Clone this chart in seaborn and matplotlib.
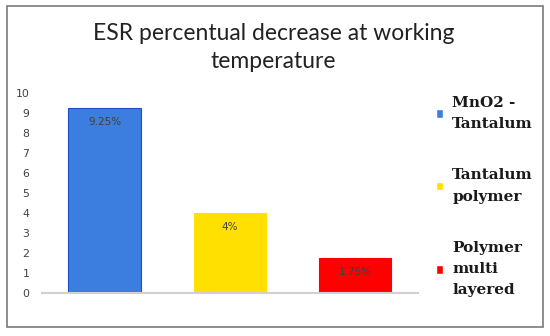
import matplotlib
matplotlib.use("Agg")
import matplotlib.pyplot as plt
from matplotlib.patches import Rectangle
import pandas as pd
import seaborn as sns

# Data
categories = ["MnO2 -\nTantalum", "Tantalum\npolymer", "Polymer\nmulti\nlayered"]
decrease_pct = [9.25, 4, 1.75]
bar_labels = ["9.25%", "4%", "1.75%"]
bar_colors = ["#3c7de0", "#ffe000", "#ff0000"]
edge_colors = ["#1f4fc8", "#ffe000", "#ff0000"]
y_ticks = list(range(0, 11))

df = pd.DataFrame({"category": categories, "value": decrease_pct})

sns.set_style("white")
plt.rcParams["font.family"] = ["Lato", "DejaVu Sans"]

fig = plt.figure(figsize=(5.5, 3.36), dpi=100)
ax = fig.add_axes([0.076, 0.128, 0.684, 0.595])

sns.barplot(data=df, x="category", y="value", hue="category",
            palette=bar_colors, width=0.575, legend=True, ax=ax,
            saturation=1)

for patch, ec in zip(ax.patches, edge_colors):
    patch.set_edgecolor(ec)
    patch.set_linewidth(0.8)

for patch, lab in zip(ax.patches, bar_labels):
    ax.text(patch.get_x() + patch.get_width() / 2, patch.get_height() - 0.45,
            lab, ha="center", va="top", fontsize=7.5, color="#404040",
            family=["DejaVu Sans"])

ax.set_ylim(0, 10)
ax.set_yticks(y_ticks)
ax.tick_params(axis="y", length=0, pad=9, colors="#404040")
for lab in ax.get_yticklabels():
    lab.set_family(["DejaVu Sans"])
    lab.set_fontsize(7.8)
ax.set_xticks([])
ax.set_xlabel("")
ax.set_ylabel("")
for side in ["top", "right", "left"]:
    ax.spines[side].set_visible(False)
ax.spines["bottom"].set_color("#d0d0d0")
ax.spines["bottom"].set_linewidth(1.5)

leg = ax.legend(loc="upper left", bbox_to_anchor=(1.01, 1.055), frameon=False,
                handlelength=0.5, handleheight=0.5, handletextpad=0.6,
                labelspacing=2.45,
                prop={"family": ["DejaVu Serif"],
                      "weight": "bold", "size": 11})
for t in leg.get_texts():
    t.set_color("#1a1a1a")
    t.set_linespacing(1.65)

fig.text(0.497, 0.858, "ESR percentual decrease at working\ntemperature",
         ha="center", va="center", fontsize=16.5, color="#222222",
         linespacing=1.38)

fig.patches.append(Rectangle((7 / 550, 1 - 327 / 336), 536 / 550, 321 / 336,
                             transform=fig.transFigure, fill=False,
                             edgecolor="#7a7a7a", linewidth=1.2))

fig.savefig("out.png", dpi=100)
